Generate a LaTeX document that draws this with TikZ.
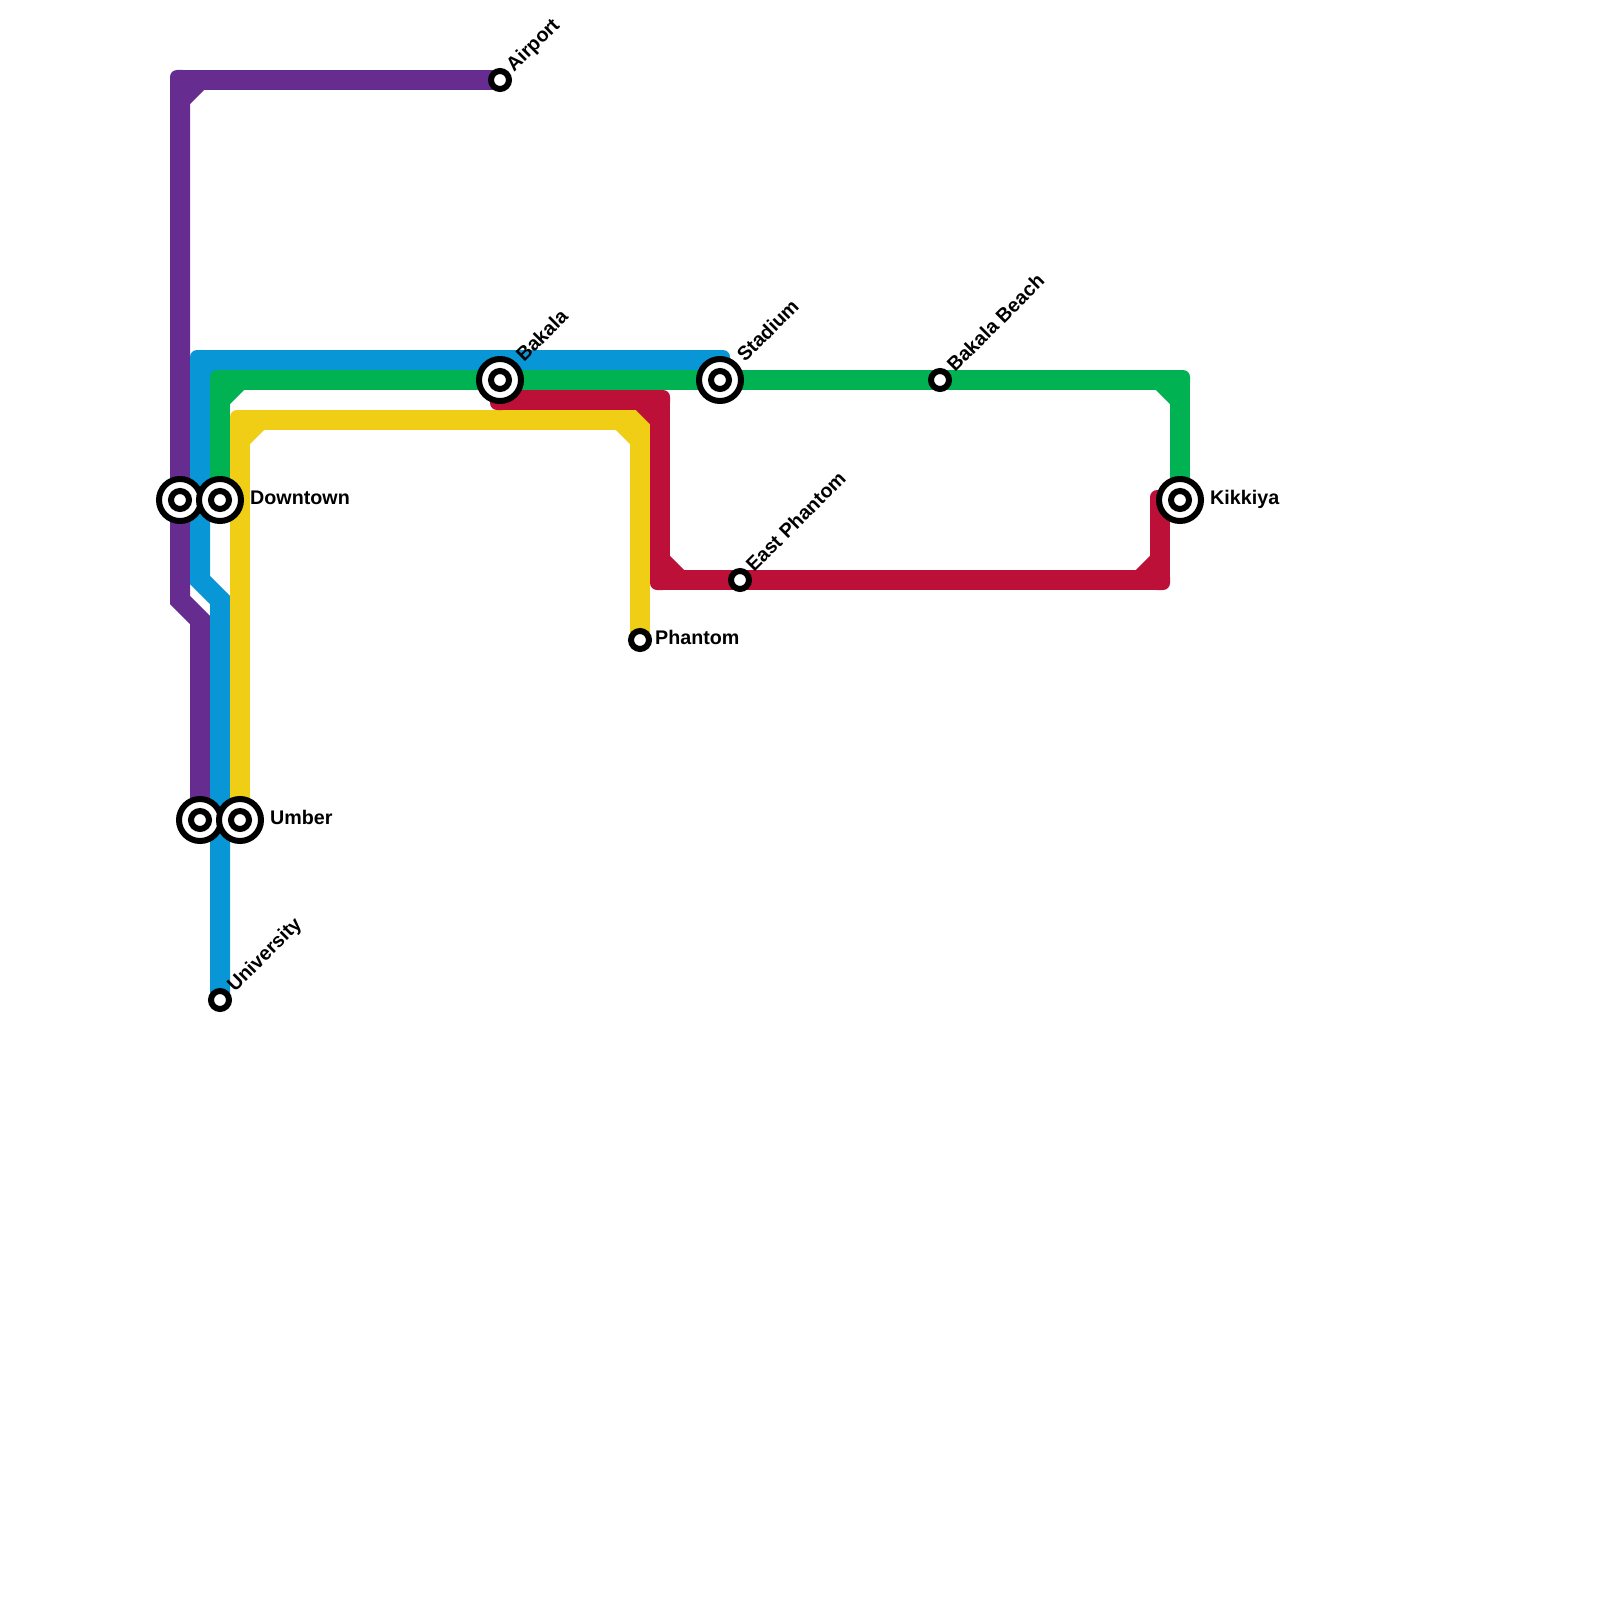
\documentclass[tikz,border=0pt]{standalone}
\usepackage{fontspec}
\setmainfont{Liberation Sans}
\usetikzlibrary{calc}
\definecolor{Plum}{HTML}{662C90}
\definecolor{Sky}{HTML}{0896D7}
\definecolor{Leaf}{HTML}{00B251}
\definecolor{Sun}{HTML}{F0CE15}
\definecolor{Crimson}{HTML}{BD1038}
\pgfdeclarelayer{lines}
\pgfsetlayers{lines,main}
\tikzset{
  track/.style={line width=20pt,line cap=butt},
  bendbox/.style={rectangle,rounded corners=7pt,minimum size=20pt,inner sep=0pt,outer sep=0pt},
  stop/.style={circle,draw=black,fill=white,line width=6pt,minimum size=18pt,inner sep=0pt,outer sep=0pt},
  hub/.style={stop,minimum size=42pt},
  stname/.style={font=\fontsize{19.7}{24}\selectfont\bfseries,anchor=base west,inner sep=0pt,text=black}
}
\begin{document}
\begin{tikzpicture}[x=1pt,y=-1pt]
  \useasboundingbox (0,0) rectangle (1600,1600);

  \node[stop] (airport) at (500,80) {};
  \node[stop] (university) at (220,1000) {};
  \node[stop] (beach) at (940,380) {};
  \node[stop] (eastphantom) at (740,580) {};
  \node[stop] (phantom) at (640,640) {};
  \node[hub] (downtownw) at (180,500) {};
  \node[stop] (downtownwc) at (downtownw) {};
  \node[hub] (downtown) at (220,500) {};
  \node[stop] (downtownc) at (downtown) {};
  \node[hub] (umberw) at (200,820) {};
  \node[stop] (umberwc) at (umberw) {};
  \node[hub] (umber) at (240,820) {};
  \node[stop] (umberc) at (umber) {};
  \node[hub] (bakala) at (500,380) {};
  \node[stop] (bakalac) at (bakala) {};
  \node[hub] (stadium) at (720,380) {};
  \node[stop] (stadiumc) at (stadium) {};
  \node[hub] (kikkiya) at (1180,500) {};
  \node[stop] (kikkiyac) at (kikkiya) {};

  \node[stname] (ldowntown) at (250,504) {Downtown};
  \node[stname] (lumber) at (270,824) {Umber};
  \node[stname] (lkikkiya) at (1210,504) {Kikkiya};
  \node[stname] (lphantom) at (655,644) {Phantom};
  \node[stname,rotate=45] (lairport) at (514,73) {Airport};
  \node[stname,rotate=45] (lbakala) at (524,363) {Bakala};
  \node[stname,rotate=45] (lstadium) at (745,363) {Stadium};
  \node[stname,rotate=45] (lbeach) at (955,373) {Bakala Beach};
  \node[stname,rotate=45] (leastphantom) at (754,573) {East Phantom};
  \node[stname,rotate=45] (luniversity) at (235,993) {University};

  \begin{pgfonlayer}{lines}
    \coordinate (pj1) at (180,600);
    \coordinate (pj2) at (200,620);
    \node[bendbox,fill=Plum] (pb1) at (180,80) {};
    \draw[track,Plum] (airport.center) -- (pb1.center);
    \draw[track,Plum] (pb1.center) -- (pj1) -- (pj2) -- (umberw.center);
    \draw[track,Plum] ($(pb1)+(0,20)$) -- ($(pb1)+(20,0)$);

    \coordinate (bj1) at (200,580);
    \coordinate (bj2) at (220,600);
    \node[bendbox,fill=Sky] (bb1) at (720,360) {};
    \node[bendbox,fill=Sky] (bb2) at (200,360) {};
    \draw[track,Sky] (stadium.center) -- (bb1.center);
    \draw[track,Sky] (bb1.center) -- (bb2.center);
    \draw[track,Sky] (bb2.center) -- (bj1) -- (bj2) -- (university.center);
    \draw[track,Sky] ($(bb1)+(0,20)$) -- ($(bb1)+(-20,0)$);
    \draw[track,Sky] ($(bb2)+(0,20)$) -- ($(bb2)+(20,0)$);

    \node[bendbox,fill=Sun] (yb1) at (640,420) {};
    \node[bendbox,fill=Sun] (yb2) at (240,420) {};
    \foreach \x/\y in {phantom/yb1,yb1/yb2,yb2/umber}
      \draw[track,Sun] (\x.center) -- (\y.center);
    \draw[track,Sun] ($(yb1)+(0,20)$) -- ($(yb1)+(-20,0)$);
    \draw[track,Sun] ($(yb2)+(0,20)$) -- ($(yb2)+(20,0)$);

    \node[bendbox,fill=Crimson] (rb1) at (500,400) {};
    \node[bendbox,fill=Crimson] (rb2) at (660,400) {};
    \node[bendbox,fill=Crimson] (rb3) at (660,580) {};
    \node[bendbox,fill=Crimson] (rb4) at (1160,580) {};
    \node[bendbox,fill=Crimson] (rb5) at (1160,500) {};
    \foreach \x/\y in {bakala/rb1,rb1/rb2,rb2/rb3,rb3/eastphantom,eastphantom/rb4,rb4/rb5,rb5/kikkiya}
      \draw[track,Crimson] (\x.center) -- (\y.center);
    \draw[track,Crimson] ($(rb2)+(0,20)$) -- ($(rb2)+(-20,0)$);
    \draw[track,Crimson] ($(rb3)+(0,-20)$) -- ($(rb3)+(20,0)$);
    \draw[track,Crimson] ($(rb4)+(0,-20)$) -- ($(rb4)+(-20,0)$);

    \node[bendbox,fill=Leaf] (gb1) at (220,380) {};
    \node[bendbox,fill=Leaf] (gb2) at (1180,380) {};
    \foreach \x/\y in {downtown/gb1,gb1/bakala,bakala/stadium,stadium/beach,beach/gb2,gb2/kikkiya}
      \draw[track,Leaf] (\x.center) -- (\y.center);
    \draw[track,Leaf] ($(gb1)+(0,20)$) -- ($(gb1)+(20,0)$);
    \draw[track,Leaf] ($(gb2)+(0,20)$) -- ($(gb2)+(-20,0)$);
  \end{pgfonlayer}
\end{tikzpicture}
\end{document}
